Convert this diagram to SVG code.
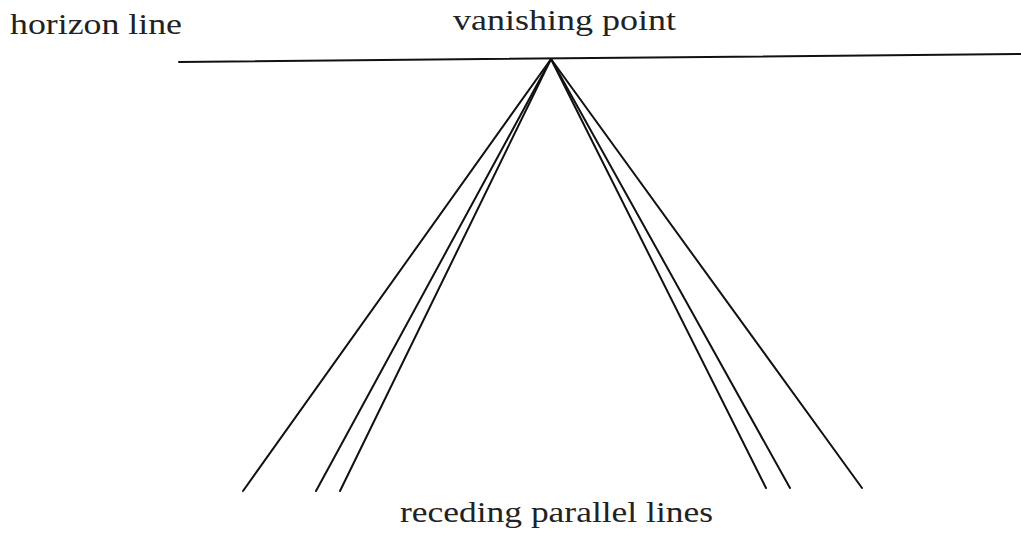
<svg xmlns="http://www.w3.org/2000/svg" width="1021" height="533" viewBox="0 0 1021 533">
<style>
text{font-family:"Liberation Serif","DejaVu Serif",serif;font-size:29px;fill:#222}
.ln{stroke:#111;stroke-width:2;fill:none;stroke-linecap:round}
</style>
<rect width="1021" height="533" fill="#fff"/>
<g id="horizon">
<line class="ln" x1="179" y1="62" x2="1021" y2="54" stroke-width="3"/>
</g>
<g id="connectors">
<line class="ln" x1="551" y1="59" x2="243" y2="491"/>
<line class="ln" x1="551" y1="59" x2="316" y2="491"/>
<line class="ln" x1="551" y1="59" x2="340" y2="491"/>
<line class="ln" x1="551" y1="59" x2="766" y2="488"/>
<line class="ln" x1="551" y1="59" x2="790" y2="488"/>
<line class="ln" x1="551" y1="59" x2="862" y2="488"/>
</g>
<g id="label-horizon"><text x="10" y="34" textLength="172" lengthAdjust="spacingAndGlyphs">horizon line</text></g>
<g id="label-vp"><text x="453" y="30" textLength="223" lengthAdjust="spacingAndGlyphs">vanishing point</text></g>
<g id="label-receding"><text x="400" y="522" textLength="313" lengthAdjust="spacingAndGlyphs">receding parallel lines</text></g>
</svg>
